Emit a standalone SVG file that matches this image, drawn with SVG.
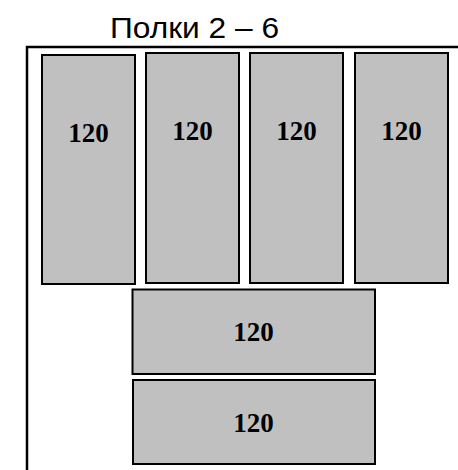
<svg xmlns="http://www.w3.org/2000/svg" width="458" height="470" viewBox="0 0 458 470">
<style>
.box{fill:#c0c0c0;stroke:#000;stroke-width:2}
.num{font-family:"Liberation Serif",serif;font-weight:bold;font-size:27px;text-anchor:middle;fill:#000}
.title{font-family:"Liberation Sans",sans-serif;font-size:29px;fill:#000}
</style>
<rect width="458" height="470" fill="#fff"/>
<text class="title" x="110" y="38" textLength="169" lengthAdjust="spacingAndGlyphs">Полки 2 – 6</text>
<g id="frame"><path d="M27,470 V47 H458" fill="none" stroke="#000" stroke-width="2.5"/></g>
<g id="b1"><rect class="box" x="42" y="55" width="93" height="229"/><text class="num" x="88.5" y="142">120</text></g>
<g id="b2"><rect class="box" x="146" y="53" width="93" height="230"/><text class="num" x="192.5" y="140">120</text></g>
<g id="b3"><rect class="box" x="250" y="53" width="93" height="230"/><text class="num" x="296.5" y="140">120</text></g>
<g id="b4"><rect class="box" x="355" y="53" width="93" height="230"/><text class="num" x="401.5" y="140">120</text></g>
<g id="b5"><rect class="box" x="132.5" y="289.5" width="242.5" height="84.5"/><text class="num" x="253.5" y="341">120</text></g>
<g id="b6"><rect class="box" x="133" y="380" width="242" height="84"/><text class="num" x="253.5" y="432">120</text></g>
</svg>
